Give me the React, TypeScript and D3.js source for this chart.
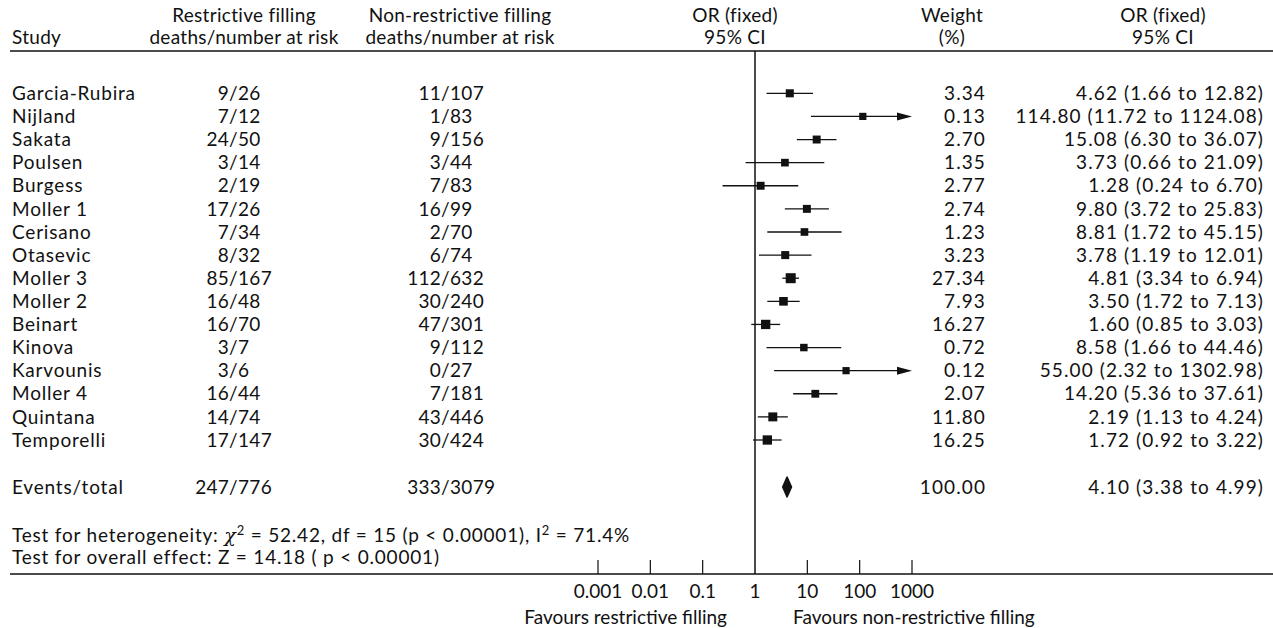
import * as d3 from "d3";

const studies = [
  "Garcia-Rubira", "Nijland", "Sakata", "Poulsen", "Burgess", "Moller 1", "Cerisano", "Otasevic",
  "Moller 3", "Moller 2", "Beinart", "Kinova", "Karvounis", "Moller 4", "Quintana", "Temporelli",
];
const restrictiveDeaths = [9, 7, 24, 3, 2, 17, 7, 8, 85, 16, 16, 3, 3, 16, 14, 17];
const restrictiveTotal = [26, 12, 50, 14, 19, 26, 34, 32, 167, 48, 70, 7, 6, 44, 74, 147];
const nonRestrictiveDeaths = [11, 1, 9, 3, 7, 16, 2, 6, 112, 30, 47, 9, 0, 7, 43, 30];
const nonRestrictiveTotal = [107, 83, 156, 44, 83, 99, 70, 74, 632, 240, 301, 112, 27, 181, 446, 424];
const weights = [3.34, 0.13, 2.7, 1.35, 2.77, 2.74, 1.23, 3.23, 27.34, 7.93, 16.27, 0.72, 0.12, 2.07, 11.8, 16.25];
const oddsRatios = [4.62, 114.8, 15.08, 3.73, 1.28, 9.8, 8.81, 3.78, 4.81, 3.5, 1.6, 8.58, 55.0, 14.2, 2.19, 1.72];
const ciLower = [1.66, 11.72, 6.3, 0.66, 0.24, 3.72, 1.72, 1.19, 3.34, 1.72, 0.85, 1.66, 2.32, 5.36, 1.13, 0.92];
const ciUpper = [12.82, 1124.08, 36.07, 21.09, 6.7, 25.83, 45.15, 12.01, 6.94, 7.13, 3.03, 44.46, 1302.98, 37.61, 4.24, 3.22];

const totalRestrictive = [247, 776];
const totalNonRestrictive = [333, 3079];
const pooled = { or: 4.1, lo: 3.38, hi: 4.99, weight: 100 };

const axisTicks = [0.001, 0.01, 0.1, 1, 10, 100, 1000];
const tickLabels = ["0.001", "0.01", "0.1", "1", "10", "100", "1000"];

const W = 1273;
const H = 628;
const FONT = "Lato, 'Noto Sans', sans-serif";
const FS = 19;
const INK = "#111";
const LS = 0.8; // futura-ish width
const LS_HEAD = 0.3;
const LS_FRAC = 0.3;
const LS_NUM = 1.1;

const x = d3.scaleLog().domain([0.001, 1000]).range([598, 912]);
const y = d3.scaleLinear().domain([0, studies.length - 1]).range([93.3, 440]);
const size = d3.scaleSqrt().domain([0, 27.34]).range([7, 10]);

const fmt = d3.format(".2f");

const col = { study: 12, r: 238, n: 450, weight: 986, ci: 1264 };
const rowTotal = 487;
const headerRule = 51;
const axisY = 574;

function Frac({ xs, yy, a, b }: { xs: number; yy: number; a: number; b: number }) {
  return (
    <g letterSpacing={LS_FRAC}>
      <text x={xs} y={yy} dy="0.35em" textAnchor="end">{`${a}/`}</text>
      <text x={xs} y={yy} dy="0.35em" textAnchor="start">{b}</text>
    </g>
  );
}

export default function App() {
  const xMax = x.range()[1];
  return (
    <svg
      width={W}
      height={H}
      style={{ position: "absolute", left: 0, top: 0, background: "#fff" }}
      fontFamily={FONT}
      fontSize={FS}
      fill={INK}
    >
      {/* header */}
      <g letterSpacing={LS_HEAD}>
        <text x={col.study} y={44}>Study</text>
        <text x={244} y={22} textAnchor="middle">Restrictive filling</text>
        <text x={244} y={44} textAnchor="middle">deaths/number at risk</text>
        <text x={460} y={22} textAnchor="middle">Non-restrictive filling</text>
        <text x={460} y={44} textAnchor="middle">deaths/number at risk</text>
        <text x={735} y={22} textAnchor="middle">OR (fixed)</text>
        <text x={735} y={44} textAnchor="middle">95% CI</text>
        <text x={952} y={22} textAnchor="middle">Weight</text>
        <text x={952} y={44} textAnchor="middle">(%)</text>
        <text x={1163} y={22} textAnchor="middle">OR (fixed)</text>
        <text x={1163} y={44} textAnchor="middle">95% CI</text>
      </g>
      <line x1={10} x2={W} y1={headerRule} y2={headerRule} stroke={INK} strokeWidth={1.5} />

      {/* line of no effect */}
      <line x1={x(1)} x2={x(1)} y1={headerRule} y2={axisY} stroke={INK} strokeWidth={1.5} />

      {/* study rows */}
      {studies.map((s, i) => {
        const yy = y(i);
        const lo = Math.max(ciLower[i], 0.001);
        const hi = ciUpper[i];
        const clipped = hi > 1000;
        const s2 = size(weights[i]);
        return (
          <g key={s}>
            <text x={col.study} y={yy} dy="0.35em" letterSpacing={LS}>{s}</text>
            <Frac xs={col.r} yy={yy} a={restrictiveDeaths[i]} b={restrictiveTotal[i]} />
            <Frac xs={col.n} yy={yy} a={nonRestrictiveDeaths[i]} b={nonRestrictiveTotal[i]} />
            <line
              x1={x(lo)}
              x2={clipped ? xMax - 12 : x(hi)}
              y1={yy}
              y2={yy}
              stroke={INK}
              strokeWidth={1.3}
            />
            {clipped && (
              <path d={`M${xMax},${yy} L${xMax - 15},${yy - 4} L${xMax - 15},${yy + 4} Z`} fill={INK} />
            )}
            <rect x={x(oddsRatios[i]) - s2 / 2} y={yy - s2 / 2} width={s2} height={s2} fill={INK} />
            <text x={col.weight} y={yy} dy="0.35em" textAnchor="end" letterSpacing={LS_NUM}>
              {fmt(weights[i])}
            </text>
            <text x={col.ci} y={yy} dy="0.35em" textAnchor="end" letterSpacing={LS_NUM}>
              {`${fmt(oddsRatios[i])} (${fmt(ciLower[i])} to ${fmt(ciUpper[i])})`}
            </text>
          </g>
        );
      })}

      {/* pooled */}
      <g>
        <text x={col.study} y={rowTotal} dy="0.35em" letterSpacing={LS}>Events/total</text>
        <Frac xs={col.r} yy={rowTotal} a={totalRestrictive[0]} b={totalRestrictive[1]} />
        <Frac xs={col.n} yy={rowTotal} a={totalNonRestrictive[0]} b={totalNonRestrictive[1]} />
        <path
          d={`M${x(pooled.lo)},${rowTotal} L${x(pooled.or)},${rowTotal - 10} L${x(pooled.hi)},${rowTotal} L${x(pooled.or)},${rowTotal + 10} Z`}
          fill={INK}
          stroke={INK}
          strokeWidth={1.5}
          strokeLinejoin="round"
        />
        <text x={col.weight} y={rowTotal} dy="0.35em" textAnchor="end" letterSpacing={LS_NUM}>
          {fmt(pooled.weight)}
        </text>
        <text x={col.ci} y={rowTotal} dy="0.35em" textAnchor="end" letterSpacing={LS_NUM}>
          {`${fmt(pooled.or)} (${fmt(pooled.lo)} to ${fmt(pooled.hi)})`}
        </text>
      </g>

      {/* tests */}
      <text x={col.study} y={535} dy="0.35em" letterSpacing={LS}>
        Test for heterogeneity: <tspan fontFamily="'DejaVu Serif', serif" fontStyle="italic">χ</tspan>
        <tspan dy={-7} fontSize={13}>2</tspan>
        <tspan dy={7}> = 52.42, df = 15 (p &lt; 0.00001), I</tspan>
        <tspan dy={-7} fontSize={13}>2</tspan>
        <tspan dy={7}> = 71.4%</tspan>
      </text>
      <text x={col.study} y={557} dy="0.35em" letterSpacing={LS}>
        Test for overall effect: Z = 14.18 ( p &lt; 0.00001)
      </text>

      {/* axis */}
      <line x1={10} x2={W} y1={axisY} y2={axisY} stroke={INK} strokeWidth={1.5} />
      {axisTicks.map((t, i) => (
        <g key={t}>
          {t !== 1 && <line x1={x(t)} x2={x(t)} y1={axisY - 14} y2={axisY} stroke={INK} strokeWidth={1.2} />}
          <text x={x(t)} y={591} dy="0.35em" textAnchor="middle">{tickLabels[i]}</text>
        </g>
      ))}
      <text x={727} y={617} dy="0.35em" textAnchor="end">Favours restrictive filling</text>
      <text x={793} y={617} dy="0.35em" textAnchor="start">Favours non-restrictive filling</text>
    </svg>
  );
}
